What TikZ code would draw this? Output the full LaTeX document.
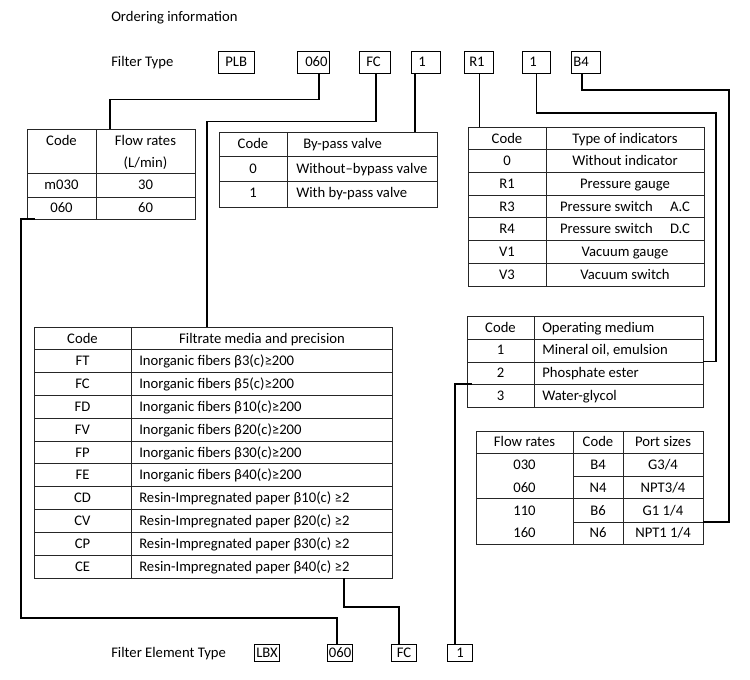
\documentclass[tikz,border=0pt]{standalone}
\usepackage{fontspec}
\setmainfont{Carlito}
\begin{document}
\begin{tikzpicture}[x=0.75pt,y=-0.75pt,
  wire/.style={line width=0.8pt, black},
  tbl/.style={line width=0.75pt, black!85},
  tx/.style={inner sep=0pt, text height=7pt, text depth=0pt, font=\fontsize{11pt}{13pt}\selectfont},
  fb/.style={draw, line width=0.8pt, anchor=north west, minimum height=16.5pt, inner sep=0pt},
  bb/.style={tx, draw, line width=0.8pt, anchor=north west, minimum height=12.75pt, minimum width=18.75pt, text height=7pt},
]
\fill[white] (0,0) rectangle (750,679);
\useasboundingbox (0,0) rectangle (750,679);

% titles
\node[tx, anchor=west] (title) at (111,17) {Ordering information};
\node[tx, anchor=west] (ftype) at (111,62) {Filter Type};

% top code boxes
\node[fb, minimum width=27pt]    (tPLB) at (218,51) {};
\node[fb, minimum width=24pt]    (t060) at (297,51) {};
\node[fb, minimum width=23.25pt] (tFC)  at (359,51) {};
\node[fb, minimum width=21.75pt] (tOne) at (411,51) {};
\node[fb, minimum width=21.75pt] (tR1)  at (464,51) {};
\node[fb, minimum width=21pt]    (tOneB) at (522,51) {};
\node[fb, minimum width=21.75pt] (tB4)  at (571,51) {};
\node[tx, anchor=west] (lPLB) at (225,62) {PLB};
\node[tx, anchor=west] (l060) at (305,62) {060};
\node[tx, anchor=west] (lFC)  at (366,62) {FC};
\node[tx, anchor=west] (lOne) at (418,62) {1};
\node[tx, anchor=west] (lR1)  at (469,62) {R1};
\node[tx, anchor=west] (lOneB) at (529,62) {1};
\node[tx, anchor=west] (lB4)  at (573,62) {B4};

% flow rate table
\draw[tbl] (27,129) rectangle (195,219);
\draw[tbl] (96,129) -- (96,219);
\foreach \y in {173,197} \draw[tbl] (27,\y) -- (195,\y);
\node[tx] (fh1) at (61.5,141) {Code};
\node[tx] (fh2) at (145.5,141) {Flow rates};
\node[tx] (fh3) at (145.5,163) {(L/min)};
\node[tx] (f11) at (61.5,185) {m030};
\node[tx] (f12) at (145.5,185) {30};
\node[tx] (f21) at (61.5,208) {060};
\node[tx] (f22) at (145.5,208) {60};

% by-pass table
\draw[tbl] (219,132) rectangle (437,207);
\draw[tbl] (287,132) -- (287,207);
\foreach \y in {156,181} \draw[tbl] (219,\y) -- (437,\y);
\node[tx] (bh1) at (253,144) {Code};
\node[tx, anchor=west] (bh2) at (303,144) {By-pass valve};
\node[tx] (b11) at (253,169) {0};
\node[tx, anchor=west] (b12) at (296,169) {Without–bypass valve};
\node[tx] (b21) at (253,193) {1};
\node[tx, anchor=west] (b22) at (296,193) {With by-pass valve};

% indicator table
\draw[tbl] (468,127) rectangle (704,286);
\draw[tbl] (546,127) -- (546,286);
\foreach \y in {149.5,172.3,195,217.8,240.6,263.3} \draw[tbl] (468,\y) -- (704,\y);
\foreach \c/\d [count=\i] in {Code/Type of indicators, 0/Without indicator, R1/Pressure gauge,
    R3/{Pressure switch\hspace{13pt}A.C}, R4/{Pressure switch\hspace{13pt}D.C},
    V1/Vacuum gauge, V3/Vacuum switch}{
  \node[tx] (ic\i) at (507,{127+22.7*(\i-0.5)}) {\c};
  \node[tx] (id\i) at (625,{127+22.7*(\i-0.5)}) {\d};
}

% filtrate table
\draw[tbl] (34,327) rectangle (392,578);
\draw[tbl] (131,327) -- (131,578);
\foreach \k in {1,...,10} \draw[tbl] (34,{327+22.8*\k}) -- (392,{327+22.8*\k});
\node[tx] (fch) at (82.5,339) {Code};
\node[tx] (fdh) at (262,339) {Filtrate media and precision};
\foreach \c/\d [count=\i] in {FT/{Inorganic fibers β3(c)≥200}, FC/{Inorganic fibers β5(c)≥200},
    FD/{Inorganic fibers β10(c)≥200}, FV/{Inorganic fibers β20(c)≥200},
    FP/{Inorganic fibers β30(c)≥200}, FE/{Inorganic fibers β40(c)≥200},
    CD/{Resin-Impregnated paper β10(c) ≥2}, CV/{Resin-Impregnated paper β20(c) ≥2},
    CP/{Resin-Impregnated paper β30(c) ≥2}, CE/{Resin-Impregnated paper β40(c) ≥2}}{
  \node[tx] (fc\i) at (82.5,{327+22.8*(\i+0.5)}) {\c};
  \node[tx, anchor=west] (fd\i) at (139,{327+22.8*(\i+0.5)}) {\d};
}

% operating medium table
\draw[tbl] (467,316) rectangle (703,407);
\draw[tbl] (534,316) -- (534,407);
\foreach \y in {339,362,384} \draw[tbl] (467,\y) -- (703,\y);
\foreach \c/\d [count=\i] in {Code/Operating medium, 1/{Mineral oil, emulsion},
    2/Phosphate ester, 3/Water-glycol}{
  \node[tx] (mc\i) at (500.5,{316+22.75*(\i-0.5)}) {\c};
  \node[tx, anchor=west] (md\i) at (542,{316+22.75*(\i-0.5)}) {\d};
}

% port size table
\draw[tbl] (476,431) rectangle (703,544);
\foreach \x in {573,623} \draw[tbl] (\x,431) -- (\x,544);
\foreach \y in {453,498} \draw[tbl] (476,\y) -- (703,\y);
\foreach \y in {476,522} \draw[tbl] (573,\y) -- (703,\y);
\node[tx] (ph1) at (524.5,442) {Flow rates};
\node[tx] (ph2) at (598,442) {Code};
\node[tx] (ph3) at (663,442) {Port sizes};
\node[tx] (p11) at (524.5,465) {030};
\node[tx] (p12) at (598,465) {B4};
\node[tx] (p13) at (663,465) {G3/4};
\node[tx] (p21) at (524.5,488) {060};
\node[tx] (p22) at (598,488) {N4};
\node[tx] (p23) at (663,488) {NPT3/4};
\node[tx] (p31) at (524.5,511) {110};
\node[tx] (p32) at (598,511) {B6};
\node[tx] (p33) at (663,511) {G1 1/4};
\node[tx] (p41) at (524.5,533) {160};
\node[tx] (p42) at (598,533) {N6};
\node[tx] (p43) at (663,533) {NPT1 1/4};

% bottom row
\node[tx, anchor=west] (fet) at (111,653) {Filter Element Type};
\node[bb] (bLBX) at (254,644) {LBX};
\node[bb] (b060) at (327,644) {060};
\node[bb] (bFC)  at (391,644) {FC};
\node[bb] (bOne) at (447,644) {1};

% connection points
\coordinate (flowTop) at (110,129);
\coordinate (flowBot) at (35,219);
\coordinate (filtTop) at (207,327);
\coordinate (filtBot) at (344,578);
\coordinate (bypTop)  at (415,132);
\coordinate (indTop)  at (478,127);
\coordinate (medR)    at (703,361.5);
\coordinate (medL)    at (472,384);
\coordinate (portR)   at (703,522);
\coordinate (j5) at (716,113);
\coordinate (j6) at (729,90);
\coordinate (j7) at (21,618);

% connectors
\draw[wire] ([xshift=16.5pt]t060.south west) -- ++(0,25) -| (flowTop);
\draw[wire] ([xshift=12.75pt]tFC.south west) -- ++(0,47) -| (filtTop);
\draw[wire] ([xshift=3pt]tOne.south west) -- (bypTop);
\draw[wire] (tR1.south) -- (tR1.south |- indTop);
\draw[wire] (tOneB.south) |- (j5) |- (medR);
\draw[wire] ([xshift=8.25pt]tB4.south west) |- (j6) |- (portR);
\draw[wire] (flowBot) -| (j7) -| ([xshift=7.5pt]b060.north west);
\draw[wire] (filtBot) -- ++(0,29) -| ([xshift=6pt]bFC.north west);
\draw[wire] (medL) -| ([xshift=6pt]bOne.north west);
\end{tikzpicture}
\end{document}
